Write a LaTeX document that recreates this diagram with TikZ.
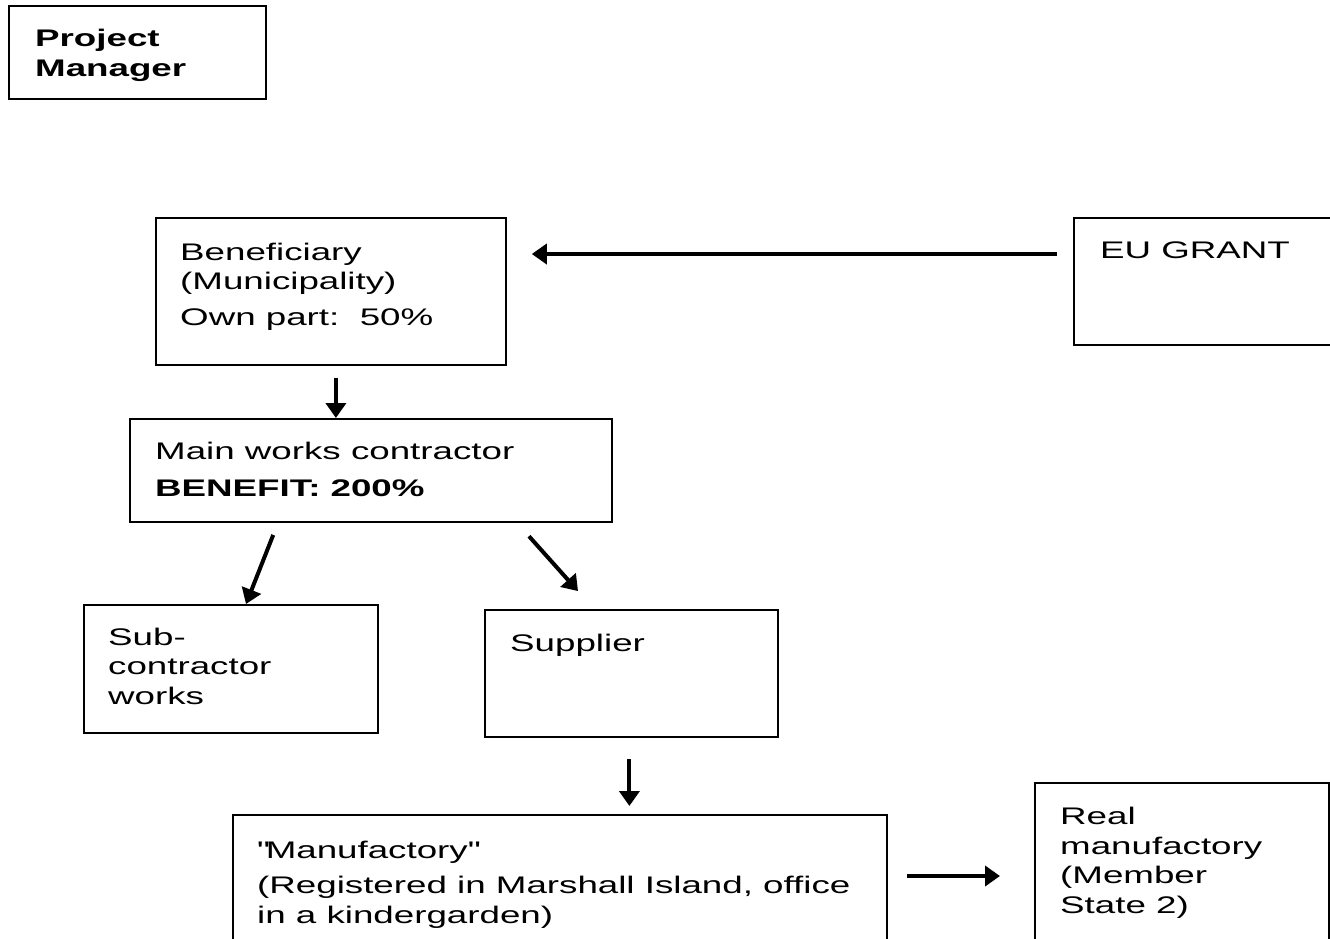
\documentclass[tikz,border=0pt]{standalone}
\usepackage{fontspec}
\setmainfont[FakeStretch=1.53]{Liberation Sans}
\usepackage{tikz}
\usetikzlibrary{calc}
\usetikzlibrary{arrows.meta}
\tikzstyle{plainbox} = [draw=black, fill=white, line width=1.8pt,
rectangle, anchor=north west, inner sep=0pt]
\tikzstyle{boxtext} =[anchor=base west, inner sep=0pt, align=left,
font=\fontsize{24}{29.5}\selectfont]
\tikzstyle{flowarrow} =[line width=4pt, -{Triangle[length=15pt,width=20pt]}]

\begin{document}
\begin{tikzpicture}[x=1pt, y=-1pt]
        \useasboundingbox (0,0) rectangle (1330,938);
        % boxes
        \node [plainbox, minimum width=257pt, minimum height=93pt] (pm) at (8,5) {};
        \node [plainbox, minimum width=350pt, minimum height=147pt] (ben) at (155,217) {};
        \node [plainbox, minimum width=280pt, minimum height=127pt] (eu) at (1073,217) {};
        \node [plainbox, minimum width=482pt, minimum height=103pt] (main) at (129,418) {};
        \node [plainbox, minimum width=294pt, minimum height=128pt] (sub) at (83,604) {};
        \node [plainbox, minimum width=293pt, minimum height=127pt] (sup) at (484,609) {};
        \node [plainbox, minimum width=654pt, minimum height=140pt] (manu) at (232,814) {};
        \node [plainbox, minimum width=294pt, minimum height=172pt] (real) at (1034,782) {};
        % texts (anchored at the baseline of their last line)
        \node [boxtext] (pmtext) at ($(pm.north west)+(27,71)$) {\textbf{Project}\\\textbf{Manager}};
        \node [boxtext] (bentext) at ($(ben.north west)+(25,108)$) {Beneficiary\\(Municipality)\\[6pt]Own part:\ \ 50\%};
        \node [boxtext] (eutext) at ($(eu.north west)+(27,41)$) {EU GRANT};
        \node [boxtext] (maintext) at ($(main.north west)+(26,78)$) {Main works contractor\\[7pt]\textbf{BENEFIT: 200\%}};
        \node [boxtext] (subtext) at ($(sub.north west)+(25,100)$) {Sub-\\contractor\\works};
        \node [boxtext] (suptext) at ($(sup.north west)+(26,42)$) {Supplier};
        \node [boxtext] (manutext) at ($(manu.north west)+(25,109)$) {\textquotedbl Manufactory\textquotedbl\\[6pt](Registered in Marshall Island, office\\in a kindergarden)};
        \node [boxtext] (realtext) at ($(real.north west)+(26,131)$) {Real\\manufactory\\(Member\\State 2)};
        % arrows
        \draw [flowarrow, shorten <=16pt, shorten >=25pt] (eu.west |- 0,254) -- (ben.east |- 0,254);
        \draw [flowarrow, shorten <=12pt] ([xshift=5pt]ben.south) -- ([xshift=5pt]ben.south |- main.north);
        \draw [flowarrow, shorten <=13pt] ([xshift=149pt]main.south west) -- ([xshift=163pt]sub.north west);
        \draw [flowarrow, shorten <=18pt, shorten >=24pt] ([xshift=388pt]main.south west) -- ([xshift=110pt]sup.north west);
        \draw [flowarrow, shorten <=21pt, shorten >=8pt] ([xshift=-2pt]sup.south) -- ([xshift=-2pt]sup.south |- manu.north);
        \draw [flowarrow, shorten <=19pt, shorten >=34pt] (manu.east |- 0,876) -- (real.west |- 0,876);
    \end{tikzpicture}
\end{document}
